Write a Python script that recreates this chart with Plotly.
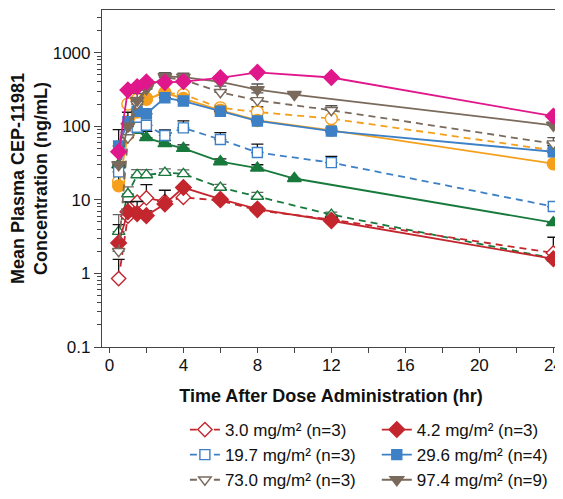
import plotly.graph_objects as go

# ---- data ----
t_a = [0.5, 1, 1.5, 2, 3, 4, 6, 8, 12, 24]
t_b = [0.5, 1, 1.5, 2, 3, 4, 6, 8, 10, 24]

d30 = [0.85, 6.0, 9.3, 10.6, 9.5, 10.8, 9.8, 7.2, 5.4, 1.9]
e30 = [0.7, 0, 0, 5.5, 0, 0, 0, 0, 0.4, 1.2]
d42 = [2.6, 6.9, 6.5, 6.1, 8.8, 14.7, 10.2, 7.5, 5.2, 1.58]
e42 = [2.0, 2.5, 3.0, 1.0, 4.7, 0, 0.5, 0.5, 0.5, 0]
d197 = [24, 90, 97, 103, 75, 95, 66, 44, 32, 8.1]
e197 = [6, 0, 0, 0, 14, 23, 16, 13, 7, 0]
d296 = [54, 115, 160, 148, 244, 220, 160, 118, 86, 45]
e296 = [36, 40, 0, 0, 0, 0, 0, 0, 0, 0]
d730 = [2.0, 70, 200, 320, 460, 430, 290, 225, 165, 58]
e730 = [0, 0, 80, 100, 50, 60, 60, 60, 25, 12]
d974 = [30, 100, 225, 325, 475, 465, 400, 315, 270, 103]
e974 = [0, 0, 0, 100, 60, 60, 40, 60, 0, 10]
d_mag = [45, 310, 345, 400, 395, 405, 455, 540, 460, 137]
d_orf = [15.5, 77, 156, 232, 285, 238, 165, 120, 88, 31]
e_orf = [12, 0, 0, 0, 0, 0, 0, 0, 0, 0]
d_oro = [17.7, 200, 230, 240, 285, 270, 178, 156, 127, 47]
e_oro = [0, 0, 0, 0, 0, 0, 0, 27, 7, 8]
d_gro = [3.7, 12, 21.8, 21.8, 23.4, 22.5, 14.7, 11.1, 6.3, 1.6]
e_gro = [2.6, 3, 4, 4, 3, 3, 1.5, 1.5, 0.5, 0]
d_grf = [30, 90, 88, 70, 58, 50, 33, 27, 19.5, 4.9]
e_grf = [0, 0, 0, 15, 6, 6, 3, 3, 0, 0]

x_ticks = [0, 2, 4, 6, 8, 10, 12, 14, 16, 18, 20, 22, 24]
x_labels = ["0", "", "4", "", "8", "", "12", "", "16", "", "20", "", "24"]
y_ticks = [0.1, 1, 10, 100, 1000]
y_labels = ["0.1", "1", "10", "100", "1000"]

RED = "#c4262e"
BLUE = "#3d80c6"
GRAY = "#7a6a5c"
MAG = "#e0178b"
ORA = "#f5a01c"
GRN = "#17793b"
FONT = "Liberation Sans, Arial, Helvetica, sans-serif"

fig = go.Figure()

def add(name, t, y, err, color, symbol, dashed, filled, size, show, legend="legend", ecol="#111"):
    fig.add_trace(go.Scatter(
        x=t, y=y, name=name, mode="lines+markers", showlegend=show, legend=legend,
        line=dict(color=color, width=1.8, dash="7px,5px" if dashed else "solid"),
        marker=dict(symbol=symbol, size=size,
                    color=color if filled else "white",
                    line=dict(color=color, width=1.4)),
        error_y=dict(type="data", symmetric=False, array=err,
                     arrayminus=[0] * len(err), color=ecol,
                     thickness=1.3, width=6) if err is not None else None,
    ))

add("Green open", t_a, d_gro, e_gro, GRN, "triangle-up", True, False, 11, False, ecol="#666")
add("Green filled", t_b, d_grf, e_grf, GRN, "triangle-up", False, True, 12, False)
add("Orange open", t_a, d_oro, e_oro, ORA, "circle", True, False, 12, False)
add("Orange filled", t_a, d_orf, e_orf, ORA, "circle", False, True, 12, False)
add("3.0 mg/m² (n=3)", t_a, d30, e30, RED, "diamond", True, False, 11, True, "legend")
add("4.2 mg/m² (n=3)", t_a, d42, e42, RED, "diamond", False, True, 12, True, "legend2")
add("19.7 mg/m² (n=3)", t_a, d197, e197, BLUE, "square", True, False, 10, True, "legend")
add("29.6 mg/m² (n=4)", t_a, d296, e296, BLUE, "square", False, True, 10, True, "legend2")
add("73.0 mg/m² (n=3)", t_a, d730, e730, GRAY, "triangle-down", True, False, 11, True, "legend", "#555")
add("97.4 mg/m² (n=9)", t_b, d974, e974, GRAY, "triangle-down", False, True, 12, True, "legend2", "#555")
add("Magenta", t_a, d_mag, None, MAG, "diamond", False, True, 12, False)

leg_common = dict(
    orientation="v", xanchor="left", yanchor="top", y=-0.1929,
    font=dict(size=17), bgcolor="rgba(0,0,0,0)",
    traceorder="normal", itemwidth=30, tracegroupgap=0,
)

fig.update_layout(
    width=555, height=483,
    margin=dict(l=94, r=3, t=2, b=144, autoexpand=False),
    paper_bgcolor="white", plot_bgcolor="white",
    font=dict(family=FONT, size=17, color="#111"),
    xaxis=dict(
        range=[-0.4, 24.36], tickmode="array", tickvals=x_ticks, ticktext=x_labels,
        ticks="outside", ticklen=5, tickcolor="#444", showgrid=False, zeroline=False,
        showline=True, linecolor="#444", linewidth=1.2, mirror=True,
        tickfont=dict(size=17), ticklabelstandoff=-3,
        title=dict(text="<b>Time After Dose Administration (hr)</b>",
                   font=dict(size=18), standoff=15),
    ),
    yaxis=dict(
        type="log", range=[-1, 3.58], tickmode="array", tickvals=y_ticks,
        ticktext=y_labels, ticks="outside", ticklen=7, tickcolor="#444",
        minor=dict(ticks="outside", ticklen=4, tickcolor="#444", dtick="D1", showgrid=False),
        showgrid=False, zeroline=False, showline=True, linecolor="#444",
        linewidth=1.2, mirror=True, tickfont=dict(size=17),
        title=dict(text="<b>Mean Plasma CEP-11981<br>Concentration (ng/mL)</b>",
                   font=dict(size=18), standoff=6),
    ),
    legend=dict(x=0.181, **leg_common),
    legend2=dict(x=0.600, **leg_common),
)

fig.write_html("out.html")
